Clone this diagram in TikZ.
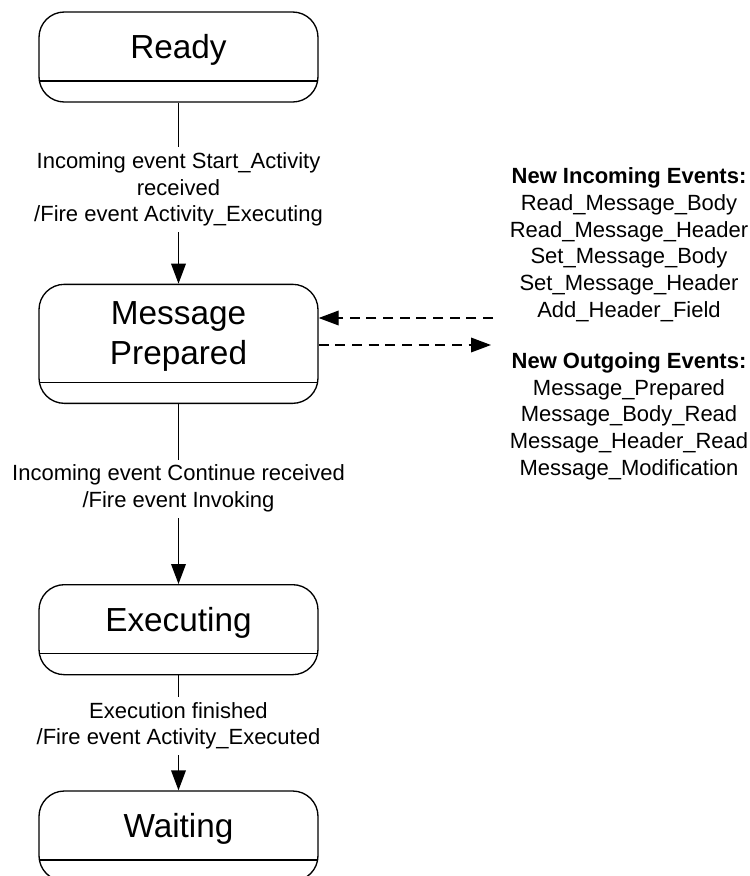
\documentclass[tikz,border=0pt]{standalone}
\usepackage{fontspec}
\setmainfont{Liberation Sans}
\usetikzlibrary{positioning,arrows.meta}

\newcommand{\lowpart}{\rule[-15.75pt]{0pt}{15.75pt}}

\begin{document}
\begin{tikzpicture}[
        state/.style = {
            draw,
            line width=1pt,
            rounded corners=19pt,
            align=center,
            minimum width=209.25pt,
            minimum height=67.5pt,
            font=\fontsize{25}{30}\selectfont,
            path picture={\draw[line width=1pt]
                ([yshift=15.75pt]path picture bounding box.south west) --
                ([yshift=15.75pt]path picture bounding box.south east);}
        },
        trans/.style = {
            fill=white,
            align=center,
            inner sep=4pt,
            font=\fontsize{16.5}{20}\selectfont
        },
        events/.style = {align=center, font=\fontsize{16.5}{20}\selectfont},
        tip/.style = {-{Triangle[length=15pt,width=11pt]}, line width=1pt},
        node distance=135pt]

        \useasboundingbox (0,0) rectangle (562.5pt,-657pt);

        \node[state] (ready) at (133.875pt,-42.75pt) {Ready\lowpart};
        \node[state, below=135.75pt of ready, minimum height=89.25pt] (msg) {Message\\Prepared\lowpart};
        \node[state, below=of msg] (exec) {Executing\lowpart};
        \node[state, below=86.25pt of exec] (wait) {Waiting\lowpart};

        \node[events] (inEvents) at (471.75pt,-183.5pt) {\textbf{New Incoming Events:}\\Read\_Message\_Body\\Read\_Message\_Header\\Set\_Message\_Body\\Set\_Message\_Header\\Add\_Header\_Field};
        \node[events] (outEvents) at (471.75pt,-312pt) {\textbf{New Outgoing Events:}\\Message\_Prepared\\Message\_Body\_Read\\Message\_Header\_Read\\Message\_Modification};

        \coordinate (inStart) at (369.75pt,-238.5pt);
        \coordinate (outEnd) at (368.25pt,-258.75pt);

        \draw[tip] (ready) -- (msg) node[trans, pos=0.48] {Incoming event Start\_Activity\\received\\/Fire event Activity\_Executing};
        \draw[tip] (msg) -- (exec) node[trans, pos=0.47] {Incoming event Continue received\\/Fire event Invoking};
        \draw[tip] (exec) -- (wait) node[trans, pos=0.44] {Execution finished\\/Fire event Activity\_Executed};
        \draw[tip, dash pattern=on 7.5pt off 5pt] (inStart) -- (msg.east |- inStart);
        \draw[tip, dash pattern=on 7.5pt off 5pt] (msg.east |- outEnd) -- (outEnd);
    \end{tikzpicture}
\end{document}
